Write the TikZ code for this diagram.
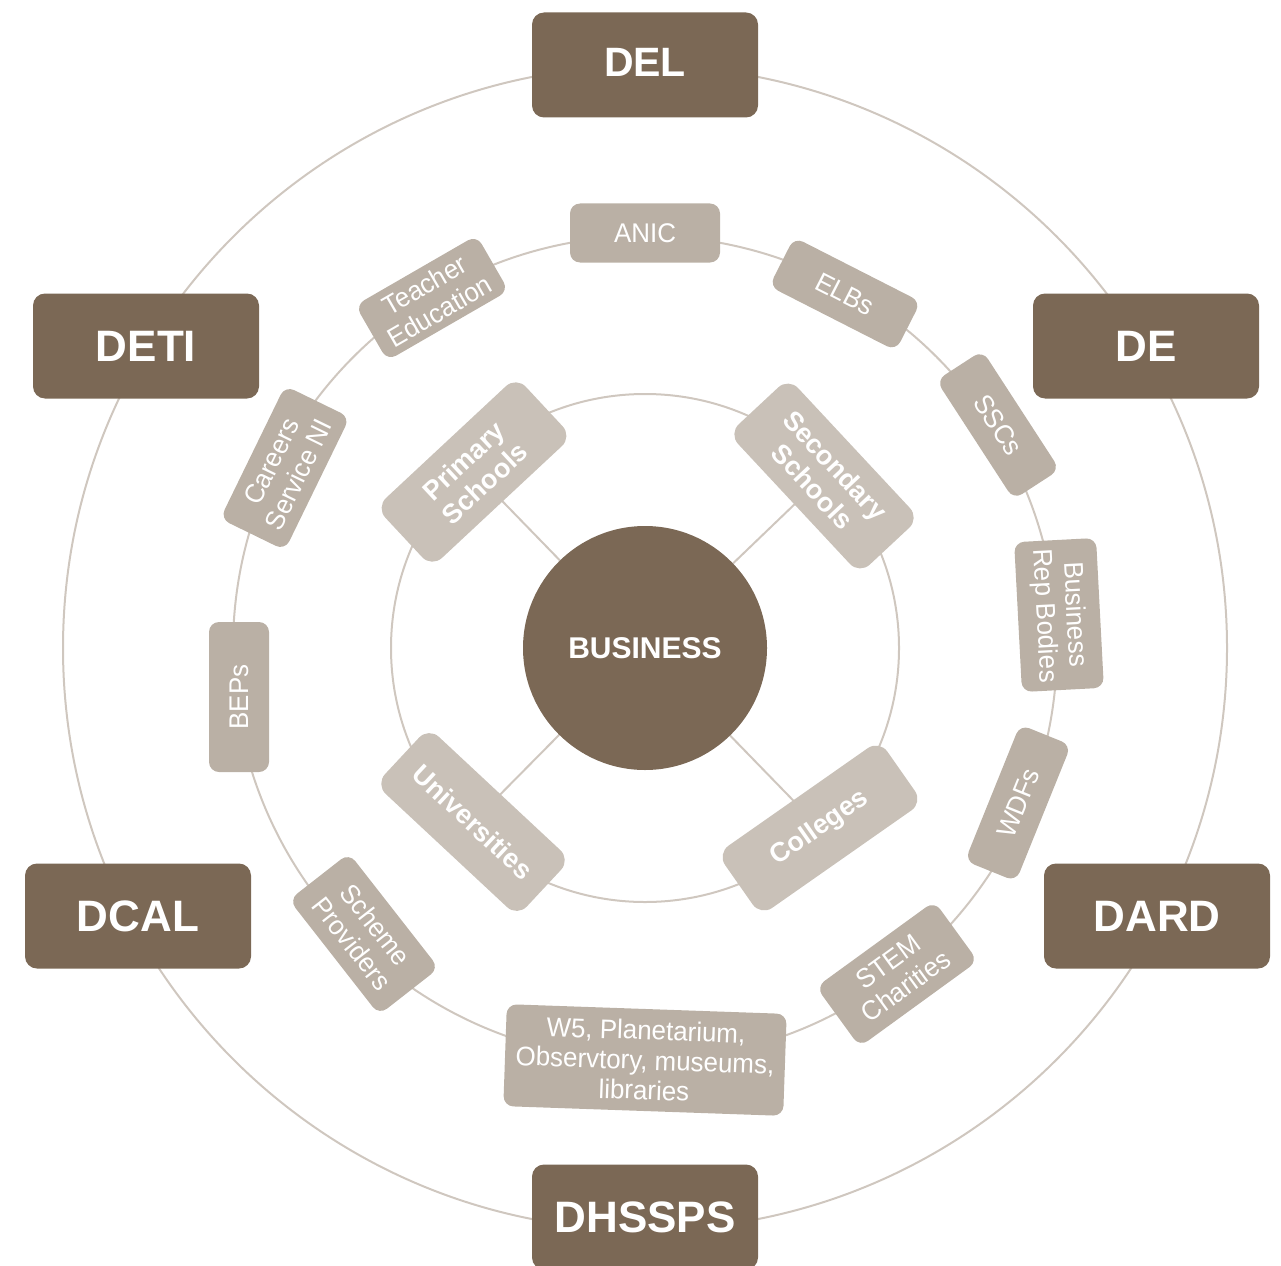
\documentclass[tikz,border=0pt]{standalone}
\usepackage{fontspec}
\setmainfont{Liberation Sans}
\newfontfamily\narrowfont{Liberation Sans}[FakeStretch=0.96]
\usetikzlibrary{backgrounds}
\definecolor{darkc}{RGB}{123,104,85}
\definecolor{midc}{RGB}{186,176,165}
\definecolor{innc}{RGB}{201,193,184}
\definecolor{ringc}{RGB}{207,199,191}
\tikzset{
  dept/.style={rectangle, rounded corners=12pt, fill=darkc, text=white,
    minimum width=226pt, minimum height=105pt, inner sep=0pt,
    font=\fontsize{44}{48}\selectfont\bfseries},
  midbox/.style={rectangle, rounded corners=10pt, fill=midc, text=white,
    align=center, inner sep=2pt,
    font=\narrowfont\fontsize{27}{30}\selectfont},
  innbox/.style={rectangle, rounded corners=14pt, fill=innc, text=white,
    align=center, inner sep=2pt,
    font=\fontsize{27}{31}\selectfont\bfseries},
  ring/.style={draw=ringc, line width=2pt},
  link/.style={draw=ringc, line width=2pt},
}
\begin{document}
\begin{tikzpicture}[x=1pt,y=-1pt]
\useasboundingbox (0,0) rectangle (1281,1265);
\coordinate (c) at (645,648);
% rings
\draw[ring] (c) circle[radius=582pt];
\draw[ring] (c) circle[radius=412pt];
\draw[ring] (c) circle[radius=254pt];
% departments
\node[dept] (del) at (645,65) {\raisebox{5pt}{\fontsize{41}{45}\selectfont DEL}};
\node[dept] (de) at (1146,346) {DE};
\node[dept] (dard) at (1157,916) {DARD};
\node[dept] (dhssps) at (645,1217) {DHSSPS};
\node[dept] (dcal) at (138,916) {DCAL};
\node[dept] (deti) at (146,346) {DETI};
% middle ring
\node[midbox, minimum width=150pt, minimum height=59pt] (anic) at (645,233) {ANIC};
\node[midbox, minimum width=142pt, minimum height=55pt, rotate=-27] (elbs) at (845,294) {ELBs};
\node[midbox, minimum width=142pt, minimum height=55pt, rotate=-57] (sscs) at (998,425) {SSCs};
\node[midbox, minimum width=150pt, minimum height=82pt, rotate=-87] (brb) at (1059,615) {Business\\Rep Bodies};
\node[midbox, minimum width=147pt, minimum height=55pt, rotate=68] (wdfs) at (1018,803) {WDFs};
\node[midbox, minimum width=146pt, minimum height=74pt, rotate=36] (stem) at (897,974) {STEM\\Charities};
\node[midbox, minimum width=280pt, minimum height=102pt, rotate=-2] (w5) at (645,1060) {W5, Planetarium,\\Observtory, museums,\\libraries};
\node[midbox, minimum width=146pt, minimum height=76pt, rotate=-52] (scheme) at (364,934) {Scheme\\Providers};
\node[midbox, minimum width=150pt, minimum height=60pt, rotate=90] (beps) at (239,697) {BEPs};
\node[midbox, minimum width=148pt, minimum height=72pt, rotate=64] (careers) at (285,468) {Careers\\Service NI};
\node[midbox, minimum width=140pt, minimum height=64pt, rotate=30] (teacher) at (432,298) {Teacher\\Education};
% inner ring
\node[innbox, minimum width=192pt, minimum height=82pt, rotate=43] (prim) at (474,472) {Primary\\Schools};
\node[innbox, minimum width=192pt, minimum height=82pt, rotate=-47] (sec) at (824,476) {Secondary\\Schools};
\node[innbox, minimum width=194pt, minimum height=78pt, rotate=-43] (uni) at (473,822) {Universities};
\node[innbox, minimum width=198pt, minimum height=76pt, rotate=35] (coll) at (820,828) {Colleges};
% centre
\node[circle, fill=darkc, text=white, minimum size=244pt, inner sep=0pt,
  font=\fontsize{30}{34}\selectfont\bfseries] (biz) at (c) {BUSINESS};
\begin{scope}[on background layer]
\draw[link] (biz.center) -- (prim.center);
\draw[link] (biz.center) -- (sec.center);
\draw[link] (biz.center) -- (uni.center);
\draw[link] (biz.center) -- (coll.center);
\end{scope}
\end{tikzpicture}
\end{document}
